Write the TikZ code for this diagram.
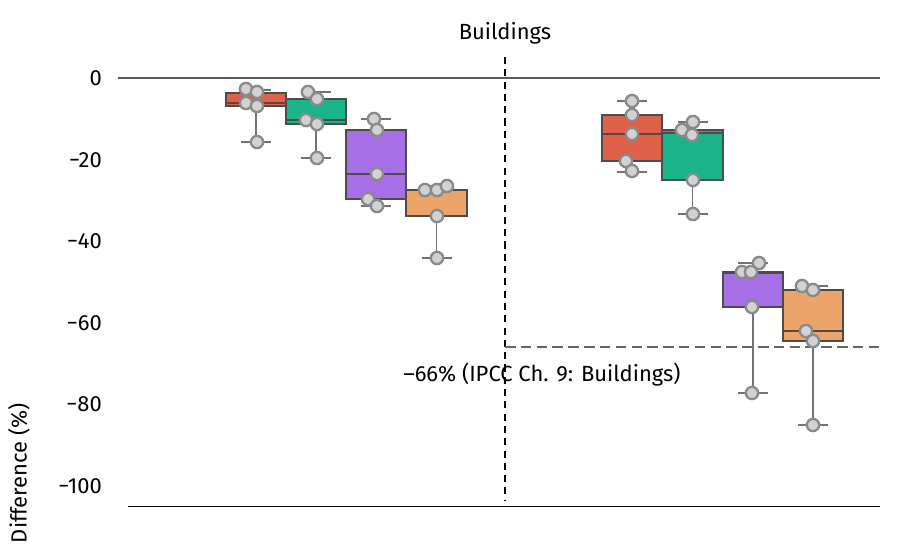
\documentclass[tikz,border=0pt]{standalone}
\usepackage{fontspec}
\setmainfont{Fira Sans}
\usepackage{tikz}
\definecolor{cred}{HTML}{E0614A}
\definecolor{cgreen}{HTML}{1BB38A}
\definecolor{cpurple}{HTML}{A66FE6}
\definecolor{corange}{HTML}{EDA46A}
\definecolor{ptgray}{HTML}{8A8A8A}
\newcommand{\pbox}[8]{% colour, x left, x right, whisker top, q3, median, q1, whisker bottom
  \draw[whisk] ({(#2+#3)/2},#4) -- ({(#2+#3)/2},#8);
  \draw[whisk] ({(#2+#3)/2-15},#4) -- ({(#2+#3)/2+15},#4);
  \draw[whisk] ({(#2+#3)/2-15},#8) -- ({(#2+#3)/2+15},#8);
  \draw[boxline,fill=#1] (#2,#5) rectangle (#3,#7);
  \draw[boxline] (#2,#6) -- (#3,#6);}
\begin{document}
\begin{tikzpicture}[x=0.02cm,y=-0.02cm,
  whisk/.style={draw=gray!90!black,line width=0.7pt},
  boxline/.style={draw=black!70,line width=0.6pt},
  pt/.style={circle,draw=ptgray,fill=gray!35,line width=1.3pt,minimum size=7pt,inner sep=0pt},
  lbl/.style={font=\fontsize{12.5}{14}\selectfont}]
\useasboundingbox (0,0) rectangle (900,552);
\begin{scope}
\clip (0,0) rectangle (900,552);
\node[lbl,rotate=90,anchor=east,inner sep=0pt] (ylab) at (19,403) {Difference (\%)};
\end{scope}
\node[lbl] (title) at (505,33) {Buildings};
% axes
\draw[line width=0.8pt,black!65] (118,78) -- (880,78);
\draw[line width=0.5pt] (128,506) -- (880,506);
\foreach \v/\y in {0/78,−20/160,−40/241,−60/323,−80/404,−100/486}
  \node[lbl,anchor=east] (t\y) at (108,\y) {\v};
% dashed guides
\draw[dash pattern=on 4pt off 3pt,line width=0.8pt] (505,57) -- (505,500);
\draw[dash pattern=on 6pt off 3pt,line width=1.6pt,black!60] (505,347) -- (880,347);
\node[lbl,anchor=west,inner sep=0pt] (ipcc) at (403,375) {–66\% (IPCC Ch. 9: Buildings)};
% left group
\pbox{cred}{226}{286}{90}{93}{103}{106}{142}
\pbox{cgreen}{286}{346}{92}{99}{120}{124}{158}
\pbox{cpurple}{346}{406}{119}{130}{174}{199}{206}
\pbox{corange}{406}{467}{186}{190}{190}{216}{258}
% right group
\pbox{cred}{602}{662}{101}{115}{134}{161}{172}
\pbox{cgreen}{662}{723}{122}{130}{133}{180}{214}
\pbox{cpurple}{723}{783}{263}{272}{273}{307}{393}
\pbox{corange}{783}{843}{286}{290}{331}{341}{425}
% points
\foreach \px/\py in {246/89,257/92,246/103,257/106,257/142,
  308/92,317/99,306/120,317/124,317/158,
  374/119,377/130,377/174,368/199,377/206,
  425/190,437/190,447/186,437/216,437/258,
  632/101,632/115,632/134,626/161,632/171,
  693/122,682/130,692/135,693/180,693/214,
  759/263,742/272,751/272,752/307,752/393,
  802/286,813/290,806/331,813/341,813/425}
  \node[pt] at (\px,\py) {};
\end{tikzpicture}
\end{document}
